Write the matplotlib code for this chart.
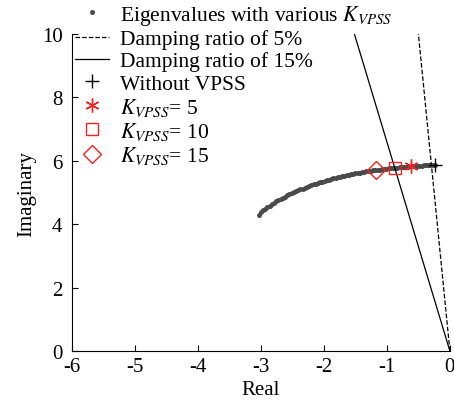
import numpy as np
import matplotlib
matplotlib.use("Agg")
import matplotlib.pyplot as plt

plt.rcParams['font.family'] = ['Liberation Serif', 'DejaVu Serif']
plt.rcParams['mathtext.fontset'] = 'stix'
plt.rcParams['axes.unicode_minus'] = False

# Eigenvalue locus (real, imaginary)
eig_real = [-0.240, -0.275, -0.310, -0.345, -0.380, -0.415, -0.450, -0.485, -0.520, -0.555,
            -0.590, -0.625, -0.660, -0.695, -0.730, -0.765, -0.800, -0.835, -0.870, -0.905,
            -0.940, -0.975, -1.010, -1.045, -1.080, -1.115, -1.150, -1.185, -1.220, -1.255,
            -1.290, -1.325, -1.360, -1.395, -1.430, -1.465, -1.500, -1.535, -1.570, -1.605,
            -1.640, -1.675, -1.710, -1.745, -1.780, -1.815, -1.850, -1.885, -1.920, -1.955,
            -1.990, -2.025, -2.060, -2.095, -2.130, -2.165, -2.200, -2.235, -2.270, -2.305,
            -2.340, -2.375, -2.410, -2.445, -2.480, -2.515, -2.550, -2.585, -2.620, -2.655,
            -2.690, -2.725, -2.760, -2.795, -2.830, -2.865, -2.900, -2.935, -2.970, -3.005,
            -3.040]
eig_imag = [5.870, 5.868, 5.865, 5.862, 5.858, 5.854, 5.850, 5.845, 5.840, 5.835,
            5.830, 5.825, 5.820, 5.814, 5.808, 5.802, 5.796, 5.789, 5.782, 5.775,
            5.768, 5.760, 5.752, 5.744, 5.736, 5.727, 5.718, 5.709, 5.699, 5.689,
            5.678, 5.667, 5.656, 5.644, 5.632, 5.619, 5.606, 5.592, 5.578, 5.563,
            5.548, 5.532, 5.516, 5.499, 5.482, 5.464, 5.446, 5.427, 5.408, 5.388,
            5.367, 5.346, 5.324, 5.302, 5.279, 5.255, 5.231, 5.206, 5.180, 5.153,
            5.126, 5.098, 5.069, 5.039, 5.008, 4.976, 4.943, 4.909, 4.874, 4.838,
            4.800, 4.761, 4.721, 4.679, 4.635, 4.590, 4.543, 4.494, 4.443, 4.390,
            4.300]

# Damping ratio lines
zetas = [0.05, 0.15]
imag_top = 10

# Highlighted operating points
no_vpss = (-0.24, 5.87)
k5 = (-0.62, 5.83)
k10 = (-0.88, 5.78)
k15 = (-1.18, 5.72)

fig = plt.figure(figsize=(4.54, 4.02), dpi=100)
ax = fig.add_axes([0.159, 0.124, 0.832, 0.789])

ax.plot(eig_real, eig_imag, linestyle='none', marker='o', markersize=3.6,
        color='#4a4a4a', markeredgewidth=0, label=r'Eigenvalues with various $K_{VPSS}$')

for z, ls, lab in zip(zetas, ['--', '-'], ['Damping ratio of 5%', 'Damping ratio of 15%']):
    re = -z / np.sqrt(1 - z ** 2) * imag_top
    ax.plot([0, re], [0, imag_top], color='black', linestyle=ls, linewidth=0.9, label=lab)

red = '#f52020'
ax.plot(*no_vpss, linestyle='none', marker='+', markersize=10, color='black',
        markeredgewidth=1.0, label='Without VPSS')
ax.plot(*k5, linestyle='none', marker=(6, 2, 0), markersize=10, color=red,
        markeredgewidth=1.0, label=r'$K_{VPSS}$= 5')
ax.plot(*k10, linestyle='none', marker='s', markersize=9, markerfacecolor='none',
        markeredgecolor=red, markeredgewidth=1.0, label=r'$K_{VPSS}$= 10')
ax.plot(*k15, linestyle='none', marker='D', markersize=9, markerfacecolor='none',
        markeredgecolor=red, markeredgewidth=1.0, label=r'$K_{VPSS}$= 15')

ax.set_xlim(-6, 0)
ax.set_ylim(0, 10)
ax.set_xticks(np.arange(-6, 1, 1))
ax.set_yticks(np.arange(0, 11, 2))
ax.spines['top'].set_visible(False)
ax.spines['right'].set_visible(False)
ax.tick_params(direction='in', length=4, labelsize=15)
ax.tick_params(axis='x', pad=4)
ax.tick_params(axis='y', pad=7)
ax.set_xlabel('Real', fontsize=15, labelpad=3)
ax.set_ylabel('Imaginary', fontsize=15, labelpad=4)

ax.legend(loc='upper left', bbox_to_anchor=(0.165, 0.99), bbox_transform=fig.transFigure,
          frameon=False, fontsize=15.5, borderpad=0, borderaxespad=0, labelspacing=0.1,
          handlelength=1.6, handletextpad=0.5, markerscale=1.0)

fig.savefig('out.png', dpi=100)
